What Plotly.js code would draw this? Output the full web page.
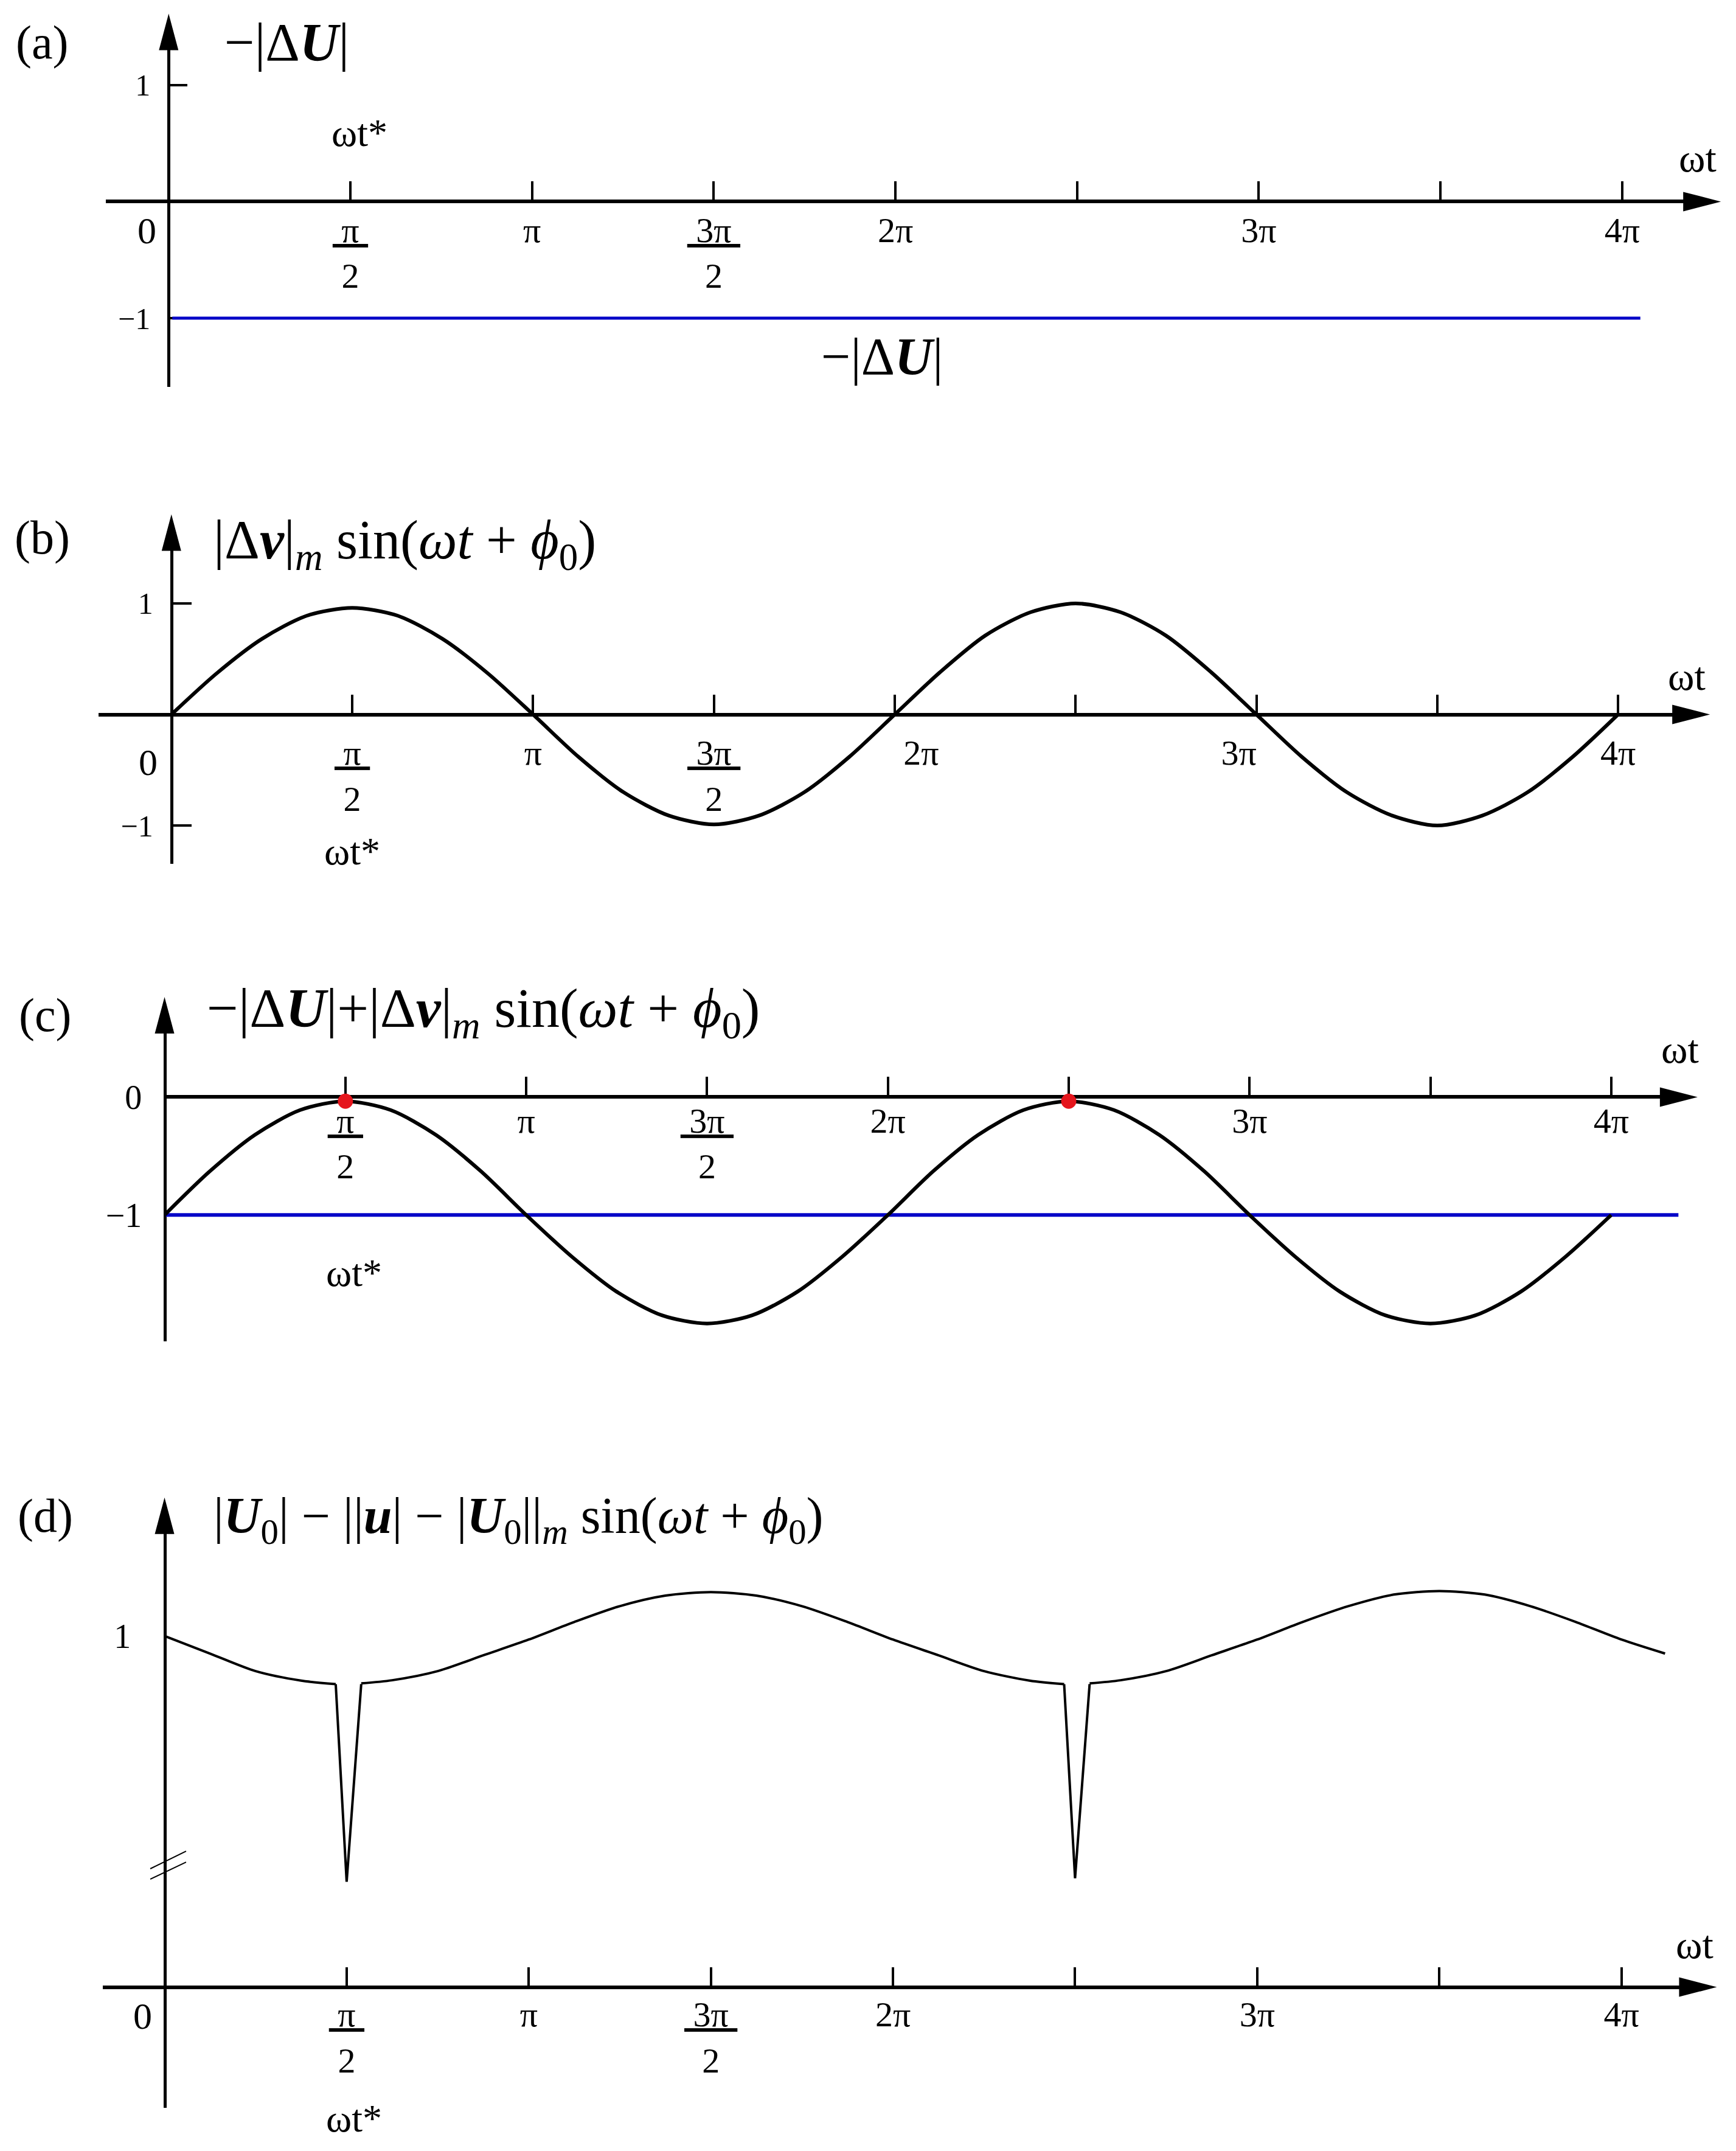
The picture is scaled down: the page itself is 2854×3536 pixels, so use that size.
<!DOCTYPE html>
<html><head><meta charset="utf-8">
<script src="https://cdn.plot.ly/plotly-3.0.1.min.js"></script>
<style>html,body{margin:0;padding:0;background:#fff;}</style>
</head><body>
<div id="chart" style="width:2854px;height:3536px;"></div>
<script>
// ---------------- DATA (ωt expressed in units of π) ----------------
const tickPos      = [0.5, 1, 1.5, 2, 3, 4];
const tickLabels   = ["π/2", "π", "3π/2", "2π", "3π", "4π"];
const minorTickPos = [2.5, 3.5];          // unlabelled ticks

// (a) −|ΔU| : constant level
const wtA = [0.01, 4.05];
const dUA = [-1, -1];

// (b) |Δv|m sin(ωt+φ0), read every π/8
const wtB = [0,0.125,0.25,0.375,0.5,0.625,0.75,0.875,1,1.125,1.25,1.375,1.5,1.625,1.75,1.875,2,
             2.125,2.25,2.375,2.5,2.625,2.75,2.875,3,3.125,3.25,3.375,3.5,3.625,3.75,3.875,4];
const dvB = [0,0.37,0.68,0.89,0.96,0.89,0.68,0.37,0,-0.38,-0.70,-0.91,-0.99,-0.91,-0.70,-0.38,0,
             0.38,0.71,0.92,1.00,0.92,0.71,0.38,0,-0.38,-0.70,-0.91,-1.00,-0.91,-0.70,-0.38,0];

// (c) −|ΔU| + |Δv|m sin(ωt+φ0)
const wtC = wtB;
const sumC = [-1.00,-0.63,-0.32,-0.11,-0.035,-0.11,-0.32,-0.63,-1.00,-1.35,-1.65,-1.85,-1.92,-1.85,-1.65,-1.35,-1.00,
              -0.63,-0.32,-0.11,-0.035,-0.11,-0.32,-0.63,-1.00,-1.35,-1.65,-1.85,-1.92,-1.85,-1.65,-1.35,-1.00];
const lineC_wt = [0, 4.265];
const lineC_v  = [-1, -1];
const dotWt = [0.5, 2.5];
const dotV  = [-0.035, -0.035];

// (d) |U0| − ||u|−|U0||m sin(ωt+φ0)  (broken axis, values in drawn units)
const wtD1 = [0, 0.125, 0.25, 0.375, 0.47];
const uD1  = [1.00, 0.95, 0.90, 0.873, 0.863];
const wtS1 = [0.47, 0.50, 0.54];
const uS1  = [0.863, 0.30, 0.863];
const wtD2 = [0.54,0.625,0.75,0.875,1.0,1.125,1.25,1.375,1.5,1.625,1.75,1.875,2.0,2.125,2.25,2.375,2.47];
const uD2  = [0.865,0.874,0.90,0.945,0.99,1.04,1.085,1.115,1.125,1.115,1.085,1.04,0.99,0.945,0.90,0.873,0.863];
const wtS2 = [2.47, 2.50, 2.54];
const uS2  = [0.863, 0.31, 0.863];
const wtD3 = [2.54,2.625,2.75,2.875,3.0,3.125,3.25,3.375,3.5,3.625,3.75,3.875,4.0,4.12];
const uD3  = [0.865,0.874,0.90,0.945,0.99,1.04,1.085,1.118,1.128,1.118,1.085,1.04,0.99,0.95];

// ---------------- LAYOUT HELPERS ----------------
const W = 2854, H = 3536, K = W / 1266;     // K: reference-thumbnail px -> page px
const PX = s => s / 1266;                  // thumbnail x -> paper
const PY = s => 1 - s * K / H;             // thumbnail y -> paper
const FX = p => p / W, FY = p => 1 - p / H; // page px -> paper
const SERIF = "Liberation Serif, Times New Roman, serif";
const NB = "\u00a0";

function fracLabel(t) {
  if (t.indexOf("/") < 0) return t;
  const [num, den] = t.split("/");
  return "<u>" + NB + num + NB + "</u><br>" + den;
}
// optional horizontal nudges of individual labels (in non-breaking spaces: [left, right])
function tickTextFor(pads) {
  return tickLabels.map(t => {
    const s = fracLabel(t), pd = (pads && pads[t]) || [0, 0];
    return NB.repeat(pd[0]) + s + NB.repeat(pd[1]);
  });
}

// per-panel geometry (thumbnail pixels)
const panels = [
  {x0:123, y0:147,  ux:265,    uy:85,  xl:77,  xt:1255, yb:282,  yt:10,
   yv:[1,-1], yt_txt:["1","\u22121"], ylen:28, ystand:18, yfs:50, xfs:58, xstand:-6, pads:null},
  {x0:125, y0:521,  ux:263.75, uy:81,  xl:72,  xt:1247, yb:630,  yt:375,
   yv:[1,-1], yt_txt:["1","\u22121"], ylen:30, ystand:18, yfs:50, xfs:58, xstand:10,
   pads:{"2π":[6,0], "3π":[0,4]}},
  {x0:120, y0:800,  ux:263.75, uy:86,  xl:121, xt:1238, yb:978,  yt:727,
   yv:[0,-1], yt_txt:["0","\u22121"], ylen:0,  ystand:24, yfs:56, xfs:58, xstand:-14, pads:null},
  {x0:120, y0:1449, ux:265.6,  uy:256, xl:75,  xt:1252, yb:1537, yt:1092,
   yv:[1],    yt_txt:["1"],           ylen:0,  ystand:42, yfs:56, xfs:58, xstand:-8, pads:null}
];

const layout = {
  width: W, height: H, margin: {l:0, r:0, t:0, b:0},
  paper_bgcolor: "#fff", plot_bgcolor: "rgba(0,0,0,0)",
  showlegend: false, shapes: [], annotations: [],
  font: {family: SERIF, color: "#000"}
};

panels.forEach((p, i) => {
  const n = i === 0 ? "" : String(i + 1);
  const xr = p.xt - 14, ytop = p.yt + 14;
  layout["xaxis" + n] = {
    domain: [PX(p.xl), PX(xr)],
    range: [(p.xl - p.x0) / p.ux, (xr - p.x0) / p.ux],
    anchor: "free", position: PY(p.y0),
    showline: true, linewidth: 6, linecolor: "#000",
    ticks: "inside", ticklen: 30, tickwidth: 4, tickcolor: "#000",
    tickmode: "array", tickvals: tickPos, ticktext: tickTextFor(p.pads),
    minor: {tickmode: "array", tickvals: minorTickPos, ticks: "inside", ticklen: 30, tickwidth: 4,
            tickcolor: "#000", showgrid: false},
    tickfont: {family: SERIF, size: p.xfs, color: "#000"},
    ticklabelstandoff: p.xstand,
    showgrid: false, zeroline: false, fixedrange: true,
    layer: i === 2 ? "below traces" : "above traces"
  };
  layout["yaxis" + n] = {
    domain: [PY(p.yb), PY(ytop)],
    range: [-(p.yb - p.y0) / p.uy, (p.y0 - ytop) / p.uy],
    anchor: "free", position: PX(p.x0),
    showline: true, linewidth: 5, linecolor: "#000",
    ticks: p.ylen ? "inside" : "", ticklen: p.ylen, tickwidth: 4, tickcolor: "#000",
    tickmode: "array", tickvals: p.yv, ticktext: p.yt_txt,
    tickfont: {family: SERIF, size: p.yfs, color: "#000"},
    ticklabelstandoff: p.ystand,
    showgrid: false, zeroline: false, fixedrange: true,
    layer: "below traces"
  };
  // arrow heads (x right, y up)
  const xtip = p.xt * K, yax = p.y0 * K;
  layout.shapes.push({type: "path", xref: "paper", yref: "paper", fillcolor: "#000", line: {width: 0},
    path: `M ${FX(xtip)},${FY(yax)} L ${FX(xtip - 62)},${FY(yax - 16)} L ${FX(xtip - 62)},${FY(yax + 16)} Z`});
  const xax = p.x0 * K, ytip = p.yt * K;
  layout.shapes.push({type: "path", xref: "paper", yref: "paper", fillcolor: "#000", line: {width: 0},
    path: `M ${FX(xax)},${FY(ytip)} L ${FX(xax - 16)},${FY(ytip + 60)} L ${FX(xax + 16)},${FY(ytip + 60)} Z`});
});

// axis-break mark on (d)
[[1362.7, 1349.9], [1370.3, 1357.9]].forEach(([y1, y2]) => {
  layout.shapes.push({type: "line", xref: "paper", yref: "paper",
    x0: PX(109.6), y0: PY(y1), x1: PX(135.7), y1: PY(y2), line: {color: "#000", width: 2}});
});

// text
function txt(x, y, text, size, anchor) {
  layout.annotations.push({xref: "paper", yref: "paper", x: PX(x), y: PY(y), text: text,
    showarrow: false, xanchor: anchor || "center", yanchor: "middle",
    font: {family: SERIF, size: size, color: "#000"}});
}
const UB = "<b><i>U</i></b>", VB = "<b><i>v</i></b>", uB = "<b><i>u</i></b>";
const SIN = "<sub><i>m</i></sub> sin(<i>ωt</i> + <i>ϕ</i><sub>0</sub>)";
txt(31, 31, "(a)", 78); txt(31, 392, "(b)", 78); txt(33, 740, "(c)", 78); txt(33, 1105, "(d)", 78);
txt(163, 31, "\u2212|Δ" + UB + "|", 88, "left");
txt(155, 397, "|Δ" + VB + "|" + SIN, 90, "left");
txt(150, 738, "\u2212|Δ" + UB + "|+|Δ" + VB + "|" + SIN, 92, "left");
txt(155, 1108, "|" + UB + "<sub>0</sub>| \u2212 ||" + uB + "| \u2212 |" + UB + "<sub>0</sub>||" + SIN, 84, "left");
txt(643, 260, "\u2212|Δ" + UB + "|", 86);
txt(1238, 115, "ωt", 66); txt(1230, 493, "ωt", 66); txt(1225, 765, "ωt", 66); txt(1236, 1418, "ωt", 66);
txt(262, 97, "ωt*", 64); txt(257, 621, "ωt*", 64); txt(258, 928, "ωt*", 64); txt(258, 1545, "ωt*", 64);
txt(107, 168, "0", 62); txt(108, 556, "0", 62); txt(104, 1470, "0", 62);

// ---------------- TRACES ----------------
const BLUE = "#0606c8", RED = "#e5161d";
const line = (x, y, xa, ya, color, w, shape) => ({x: x, y: y, xaxis: xa, yaxis: ya, type: "scatter",
  mode: "lines", line: {color: color, width: w, shape: shape || "linear", smoothing: 0.8},
  hoverinfo: "skip", cliponaxis: false});
const traces = [
  line(wtA, dUA, "x", "y", BLUE, 5),
  line(wtB, dvB, "x2", "y2", "#000", 6, "spline"),
  line(lineC_wt, lineC_v, "x3", "y3", BLUE, 6),
  line(wtC, sumC, "x3", "y3", "#000", 6, "spline"),
  {x: dotWt, y: dotV, xaxis: "x3", yaxis: "y3", type: "scatter", mode: "markers",
   marker: {color: RED, size: 25}, hoverinfo: "skip", cliponaxis: false},
  line(wtD1, uD1, "x4", "y4", "#000", 4, "spline"),
  line(wtS1, uS1, "x4", "y4", "#000", 4),
  line(wtD2, uD2, "x4", "y4", "#000", 4, "spline"),
  line(wtS2, uS2, "x4", "y4", "#000", 4),
  line(wtD3, uD3, "x4", "y4", "#000", 4, "spline")
];

Plotly.newPlot("chart", traces, layout, {displayModeBar: false, staticPlot: true});
</script>
</body></html>
